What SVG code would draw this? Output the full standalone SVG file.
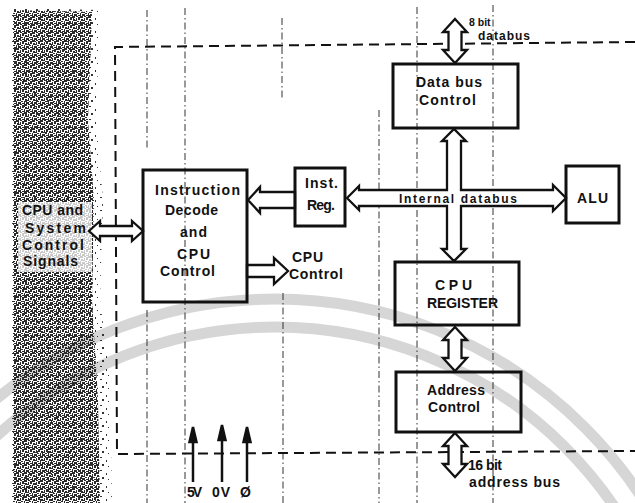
<svg xmlns="http://www.w3.org/2000/svg" width="635" height="503" viewBox="0 0 635 503">
<style>
.t{font-family:"Liberation Sans",Arial,sans-serif;font-weight:bold;font-size:14px;fill:#111}
.s{font-size:12px}
.xs{font-size:10.5px}
.box{fill:none;stroke:#111;stroke-width:3}
.arr{fill:#fff;stroke:#111;stroke-width:2.3;stroke-linejoin:miter}
.dd{stroke:#333;stroke-width:1;fill:none;stroke-dasharray:7 3 1.5 3}
.bd{stroke:#111;stroke-width:2;fill:none;stroke-dasharray:10 6}
.wm{fill:none;stroke:#d6d6d6;stroke-width:11}
</style>
<defs>
<pattern id="noise" width="8" height="8" patternUnits="userSpaceOnUse">
<g fill="#2a2a2a">
<rect x="0" y="0" width="3" height="2"/><rect x="4" y="0" width="2" height="1"/><rect x="6" y="1" width="2" height="3"/><rect x="1" y="3" width="2" height="2"/><rect x="4" y="2" width="1" height="3"/><rect x="0" y="5" width="1" height="3"/><rect x="2" y="6" width="3" height="2"/><rect x="5" y="5" width="2" height="1"/><rect x="6" y="7" width="2" height="1"/><rect x="3" y="4" width="1" height="1"/>
</g>
</pattern>
<pattern id="sparse" width="11" height="13" patternUnits="userSpaceOnUse">
<g fill="#333">
<rect x="1" y="2" width="2" height="1"/><rect x="7" y="5" width="1" height="2"/><rect x="3" y="9" width="2" height="2"/><rect x="9" y="11" width="1" height="1"/>
</g>
</pattern>
</defs>
<rect width="635" height="503" fill="#fff"/>
<!-- watermark -->
<circle class="wm" cx="275" cy="737" r="438"/>
<circle class="wm" cx="275" cy="737" r="410"/>
<!-- scan noise band -->
<path d="M12,8 L100,10 L96,120 L103,200 L100,300 L110,380 L112,503 L12,503 Z" fill="url(#sparse)"/>
<path d="M13,10 L92,12 L88,120 L94,200 L92,300 L98,400 L100,503 L13,503 Z" fill="url(#noise)"/>
<rect x="18" y="202" width="74" height="70" fill="#fff" opacity="0.75"/>
<!-- dash-dot construction lines -->
<g id="guides">
<line class="dd" x1="147" y1="10" x2="147" y2="150"/>
<line class="dd" x1="147" y1="310" x2="147" y2="503"/>
<line class="dd" x1="185" y1="8" x2="185" y2="503"/>
<line class="dd" x1="282" y1="18" x2="282" y2="100"/>
<line class="dd" x1="283" y1="293" x2="283" y2="503"/>
<line class="dd" x1="379" y1="110" x2="379" y2="503"/>
<line class="dd" x1="417" y1="7" x2="417" y2="503"/>
<line class="dd" x1="493" y1="5" x2="493" y2="503"/>
</g>
<!-- dashed boundary -->
<g id="boundary">
<path class="bd" d="M635,42 L115,47 L117,454 L635,451"/>
</g>
<g id="connectors">
<path class="arr" d="M347,198 L359,186 L359,190 L447,190 L447,141 L442,141 L454,129 L466,141 L461,141 L461,190 L553,190 L553,185 L566,198 L553,211 L553,206 L461,206 L461,249 L466,249 L454,261 L442,249 L447,249 L447,206 L359,206 L359,210 Z"/>
<path class="arr" d="M248,200 L260,187 L260,192 L295,192 L295,208 L260,208 L260,213 Z"/>
<path class="arr" d="M247,265 L274,265 L274,258 L288,271 L274,284 L274,277 L247,277 Z"/>
<path class="arr" d="M89,231 L100,221 L100,226 L132,226 L132,221 L143,231 L132,241 L132,236 L100,236 L100,241 Z"/>
<path class="arr" d="M455,19 L467,32 L461.5,32 L461.5,50 L467,50 L455,63 L443,50 L448.5,50 L448.5,32 L443,32 Z"/>
<path class="arr" d="M455,327 L467,340 L461.5,340 L461.5,358 L467,358 L455,371 L443,358 L448.5,358 L448.5,340 L443,340 Z"/>
<path class="arr" d="M455,433 L467,446 L461.5,446 L461.5,464 L467,464 L455,477 L443,464 L448.5,464 L448.5,446 L443,446 Z"/>
<g stroke="#111" stroke-width="2.5" fill="#111">
<line x1="193" y1="482" x2="193" y2="440"/><path d="M189.5,442 L193,427 L196.5,442 Z"/>
<line x1="222" y1="482" x2="222" y2="438"/><path d="M218.5,440 L222,425 L225.5,440 Z"/>
<line x1="247" y1="482" x2="247" y2="440"/><path d="M243.5,442 L247,427 L250.5,442 Z"/>
</g>
</g>
<g id="instruction-decode">
<rect class="box" x="143" y="170" width="104" height="132"/>
<text class="t" x="155" y="195" textLength="85" lengthAdjust="spacing">Instruction</text>
<text class="t" x="165" y="215" textLength="53" lengthAdjust="spacing">Decode</text>
<text class="t" x="180" y="237" textLength="27" lengthAdjust="spacing">and</text>
<text class="t" x="177" y="259" textLength="33" lengthAdjust="spacing">CPU</text>
<text class="t" x="160" y="276" textLength="55" lengthAdjust="spacing">Control</text>
</g>
<g id="inst-reg">
<rect class="box" x="295" y="168" width="50" height="58"/>
<text class="t" x="305" y="188" textLength="33" lengthAdjust="spacing">Inst.</text>
<text class="t" x="307" y="210" textLength="28" lengthAdjust="spacing">Reg.</text>
</g>
<g id="data-bus-control">
<rect class="box" x="393" y="64" width="125" height="64"/>
<text class="t" x="416" y="87" textLength="66" lengthAdjust="spacing">Data bus</text>
<text class="t" x="419" y="105" textLength="57" lengthAdjust="spacing">Control</text>
</g>
<g id="alu">
<rect class="box" x="566" y="166" width="53" height="57"/>
<text class="t" x="577" y="203" textLength="31" lengthAdjust="spacing">ALU</text>
</g>
<g id="cpu-register">
<rect class="box" x="395" y="262" width="124" height="63"/>
<text class="t" x="435" y="290" textLength="37" lengthAdjust="spacing">CPU</text>
<text class="t" x="427" y="308" textLength="71" lengthAdjust="spacing">REGISTER</text>
</g>
<g id="address-control">
<rect class="box" x="396" y="372" width="125" height="60"/>
<text class="t" x="427" y="395" textLength="58" lengthAdjust="spacing">Address</text>
<text class="t" x="428" y="412" textLength="52" lengthAdjust="spacing">Control</text>
</g>
<g id="labels">
<text class="t xs" x="469" y="26">8 bit</text>
<text class="t s" x="478" y="40" textLength="52" lengthAdjust="spacing">databus</text>
<text class="t s" x="399" y="203" textLength="118" lengthAdjust="spacing">Internal databus</text>
<text class="t" x="292" y="262" textLength="31" lengthAdjust="spacing">CPU</text>
<text class="t" x="289" y="279" textLength="54" lengthAdjust="spacing">Control</text>
<text class="t" x="468" y="470" textLength="34" lengthAdjust="spacing">16 bit</text>
<text class="t" x="469" y="487" textLength="91" lengthAdjust="spacing">address bus</text>
<text class="t" x="22" y="215" textLength="61" lengthAdjust="spacing">CPU and</text>
<text class="t" x="25" y="233" textLength="61" lengthAdjust="spacing">System</text>
<text class="t" x="22" y="250" textLength="62" lengthAdjust="spacing">Control</text>
<text class="t" x="23" y="266" textLength="55" lengthAdjust="spacing">Signals</text>
<text class="t" x="187" y="497" textLength="15" lengthAdjust="spacing">5V</text>
<text class="t" x="212" y="497" textLength="18" lengthAdjust="spacing">0V</text>
<text class="t" x="240" y="497" textLength="10" lengthAdjust="spacing">Ø</text>
</g>
</svg>
